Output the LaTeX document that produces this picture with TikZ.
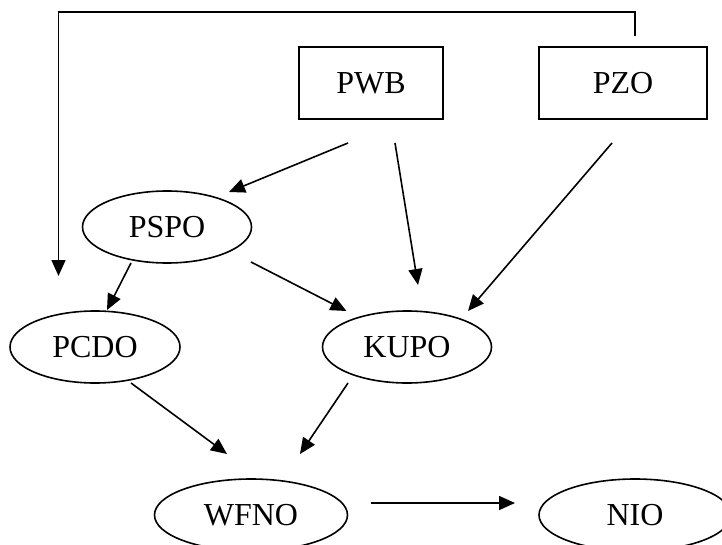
\documentclass[tikz,border=0pt]{standalone}
\usepackage{fontspec}
\setmainfont{Liberation Serif}
\usetikzlibrary{positioning, shapes.geometric, arrows.meta, calc}

\begin{document}
\begin{tikzpicture}[
        x=1pt, y=-1pt,
        every node/.style={draw, line width=1.6pt, inner sep=0pt, align=center, font=\fontsize{32}{38}\selectfont, minimum height=72pt},
        box/.style={rectangle, line width=2.2pt},
        oval/.style={ellipse},
        arrow/.style={-{Triangle[length=16pt, width=14pt]}, line width=1.6pt}
      ]
    \useasboundingbox (0,0) rectangle (722,545);

    \node (pwb) [box, minimum width=144pt] at (371,83) {PWB};
    \node (pzo) [box, minimum width=168pt] at (623,83) {PZO};
    \node (pspo) [oval, minimum width=169pt] at (167,227) {PSPO};
    \node (pcdo) [oval, minimum width=170pt] at (95,347) {PCDO};
    \node (kupo) [oval, minimum width=169pt] at (407,347) {KUPO};
    \node (wfno) [oval, minimum width=193pt] at (251,515) {WFNO};
    \node (nio) [oval, minimum width=192pt] at (635,515) {NIO};
    \coordinate (back) at (58.5,276);

    \draw[arrow] ([xshift=-23pt, yshift=-60pt]pwb.center) -- ([xshift=62pt, yshift=35pt]pspo.center);
    \draw[arrow] ([xshift=24pt, yshift=-60pt]pwb.center) -- ([xshift=11pt, yshift=62pt]kupo.center);
    \draw[arrow] ([xshift=-11pt, yshift=-60pt]pzo.center) -- ([xshift=61pt, yshift=36pt]kupo.center);
    \draw[arrow] ([xshift=-36pt, yshift=-36pt]pspo.center) -- ([xshift=12pt, yshift=37pt]pcdo.center);
    \draw[arrow] ([xshift=84pt, yshift=-35pt]pspo.center) -- ([xshift=-60.5pt, yshift=36pt]kupo.center);
    \draw[arrow] ([xshift=36pt, yshift=-36pt]pcdo.center) -- ([xshift=-24pt, yshift=61pt]wfno.center);
    \draw[arrow] ([xshift=-59pt, yshift=-36pt]kupo.center) -- ([xshift=49pt, yshift=61pt]wfno.center);
    \draw[arrow] ([xshift=120pt, yshift=12pt]wfno.center) -- ([xshift=-120pt, yshift=12pt]nio.center);
    \draw[arrow] ([xshift=12pt, yshift=47pt]pzo.center) -- ++(0,-23.7) -| (back);

\end{tikzpicture}
\end{document}
